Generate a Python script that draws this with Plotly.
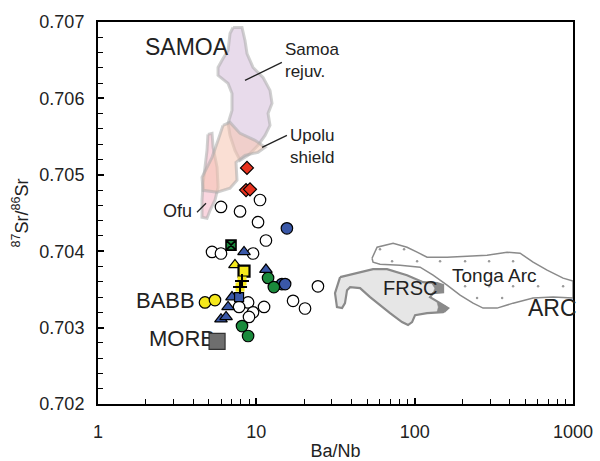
import math
import plotly.graph_objects as go

# ---------------- data ----------------
open_x = [5.98, 7.89, 10.55, 10.25, 11.5, 5.25, 5.98, 9.53, 24.5, 8.87, 7.78, 9.53, 8.99, 11.19, 17.06, 20.3]
open_y = [0.70458, 0.70452, 0.70467, 0.70438, 0.70414, 0.70399, 0.70397, 0.70397, 0.70354, 0.70333,
          0.70327, 0.70320, 0.70314, 0.70327, 0.70335, 0.70325]

blue_circ_x = [15.6, 14.5, 15.2]
blue_circ_y = [0.70430, 0.70357, 0.70357]

blue_tri_x = [8.36, 11.5, 7.02, 6.63, 5.98, 6.44]
blue_tri_y = [0.70399, 0.70376, 0.70340, 0.70327, 0.70311, 0.70314]

blue_sq_x = [7.78]
blue_sq_y = [0.70340]

green_circ_x = [11.86, 12.9, 8.12, 8.87]
green_circ_y = [0.70365, 0.70353, 0.70302, 0.70289]

green_x_x = [6.92]
green_x_y = [0.70408]

yellow_tri_x = [7.33]
yellow_tri_y = [0.70382]

yellow_sq_x = [8.36]
yellow_sq_y = [0.70374]

yellow_cross_x = [8.12, 7.89]
yellow_cross_y = [0.70361, 0.70353]

yellow_circ_x = [4.74, 5.48]
yellow_circ_y = [0.70333, 0.70336]

red_dia_x = [8.73, 8.61, 9.12]
red_dia_y = [0.70509, 0.70480, 0.70481]

morb_x = [5.65]
morb_y = [0.70282]

# fields (outlines in data units)
samoa_rej_x = [7.13, 8.12, 8.48, 8.73, 9.53, 11.02, 12.2, 12.56, 11.86, 12.2, 11.35, 10.25, 8.87, 7.89,
               7.33, 6.82, 6.63, 7.02, 7.02, 6.63, 5.73, 5.73, 6.16, 6.63, 6.82]
samoa_rej_y = [0.706928, 0.706928, 0.706758, 0.706588, 0.706405, 0.706275, 0.706105, 0.705935, 0.705804,
               0.705647, 0.705516, 0.705386, 0.705255, 0.705190, 0.705320, 0.705516, 0.705673, 0.705843,
               0.706065, 0.706196, 0.706301, 0.706405, 0.706523, 0.706627, 0.706850]

upolu_x = [6.16, 6.82, 7.89, 9.81, 11.35, 10.25, 8.48, 7.44, 7.55, 6.82, 5.65, 4.61, 4.54, 5.25, 5.73]
upolu_y = [0.705647, 0.705686, 0.705542, 0.705451, 0.705359, 0.705294, 0.705255, 0.705163, 0.704928,
           0.704824, 0.704771, 0.704797, 0.704967, 0.705229, 0.705451]

ofu_x = [4.95, 5.25, 5.33, 5.65, 5.73, 5.48, 5.10, 4.88, 4.54, 4.54, 4.61, 4.74, 4.88]
ofu_y = [0.705529, 0.705542, 0.705359, 0.705098, 0.704837, 0.704667, 0.704536, 0.704431, 0.704444,
         0.704667, 0.704889, 0.705098, 0.705320]

tonga_x = [53.8, 57.9, 73.1, 89.5, 103.6, 119.8, 160.2, 214.3, 286.7, 383.5, 463.4, 559.8, 686.2, 865.9, 1000,
           1000, 748.5, 559.8, 418.4, 331.5, 270.4, 233.8, 193.6, 160.2, 130.7, 108.2, 80.9, 60.4, 54.6]
tonga_y = [0.703908, 0.704052, 0.704105, 0.704052, 0.703987, 0.703922, 0.703922, 0.703935, 0.703948,
           0.703987, 0.703974, 0.703856, 0.703752, 0.703647, 0.703608,
           0.703386, 0.703399, 0.703386, 0.703320, 0.703255, 0.703255, 0.703320, 0.703425, 0.703556,
           0.703686, 0.703791, 0.703817, 0.703830, 0.703856]

tonga_dot_x = [60.4, 85.7, 72.0, 103.6, 144.7, 208.2, 295.1, 418.4, 208.2, 295.1, 418.4, 601.9, 865.9, 247.9, 356.6]
tonga_dot_y = [0.704026, 0.704026, 0.703869, 0.703869, 0.703869, 0.703869, 0.703869, 0.703869,
               0.703542, 0.703542, 0.703542, 0.703542, 0.703542, 0.703386, 0.703386]

frsc_x = [33.8, 43.3, 54.6, 66.9, 89.5, 113.0, 138.5, 151.1, 151.1, 130.7, 125.1, 144.7, 162.6, 151.1,
          119.8, 100.6, 96.3, 90.8, 83.2, 69.9, 60.4, 52.3, 45.2, 39.1, 37.4, 36.3, 34.8, 32.3, 31.4]
frsc_y = [0.703660, 0.703712, 0.703765, 0.703765, 0.703686, 0.703595, 0.703582, 0.703556, 0.703464,
          0.703451, 0.703399, 0.703320, 0.703255, 0.703203, 0.703190, 0.703163, 0.703072, 0.703033,
          0.703072, 0.703190, 0.703294, 0.703399, 0.703516, 0.703529, 0.703490, 0.703320, 0.703255,
          0.703268, 0.703451]

frsc_tip1_x = [128.0, 138.5, 148.0, 151.1, 148.0, 130.7, 134.0]
frsc_tip1_y = [0.703582, 0.703582, 0.703560, 0.703510, 0.703464, 0.703451, 0.703516]
frsc_tip2_x = [138.5, 144.7, 158.0, 162.6, 156.0, 138.5, 141.0]
frsc_tip2_y = [0.703333, 0.703320, 0.703280, 0.703240, 0.703203, 0.703203, 0.703268]

x_tickvals = [1, 10, 100, 1000]
x_ticktext = ["1", "10", "100", "1000"]
y_tickvals = [0.702, 0.703, 0.704, 0.705, 0.706, 0.707]
y_ticktext = ["0.702", "0.703", "0.704", "0.705", "0.706", "0.707"]

# ---------------- figure ----------------
FONT = "Liberation Sans, Arial, sans-serif"
TXT = "#222222"
fig = go.Figure()

def poly(x, y, fill, line, width):
    fig.add_trace(go.Scatter(x=x + x[:1], y=y + y[:1], mode="lines", fill="toself",
                             fillcolor=fill, line=dict(color=line, width=width),
                             hoverinfo="skip", showlegend=False))

poly(samoa_rej_x, samoa_rej_y, "rgba(214,190,218,0.55)", "rgba(170,170,170,0.55)", 3)
poly(ofu_x, ofu_y, "rgba(246,180,196,0.55)", "rgba(170,170,170,0.55)", 3)
poly(upolu_x, upolu_y, "rgba(246,196,176,0.55)", "rgba(170,170,170,0.55)", 3)

poly(tonga_x, tonga_y, "rgba(255,255,255,1)", "#8a8a8a", 1.5)
poly(frsc_x, frsc_y, "#e6e6e6", "#8a8a8a", 2.2)
poly(frsc_tip1_x, frsc_tip1_y, "#8a8a8a", "#8a8a8a", 0.5)
poly(frsc_tip2_x, frsc_tip2_y, "#8a8a8a", "#8a8a8a", 0.5)

fig.add_trace(go.Scatter(x=tonga_dot_x, y=tonga_dot_y, mode="markers",
                         marker=dict(size=2.5, color="#9a9a9a"), showlegend=False, hoverinfo="skip"))

# leader lines
def leader(x, y):
    fig.add_trace(go.Scatter(x=x, y=y, mode="lines", line=dict(color="#222222", width=1.3),
                             showlegend=False, hoverinfo="skip"))

leader([14.5, 8.48], [0.706471, 0.706235])
leader([15.6, 10.87], [0.705516, 0.705359])
leader([4.22, 4.81], [0.70451, 0.704627])

# MORB label drawn as a trace so the MORB square sits on top of its last letter
fig.add_trace(go.Scatter(x=[3.39], y=[0.70283], mode="text", text=["MORB"], textposition="middle center",
                         textfont=dict(family=FONT, size=22, color=TXT), showlegend=False, hoverinfo="skip"))

def pts(x, y, symbol, color, size, lw=1.2, lc="black"):
    fig.add_trace(go.Scatter(x=x, y=y, mode="markers", showlegend=False, hoverinfo="skip",
                             marker=dict(symbol=symbol, color=color, size=size,
                                         line=dict(color=lc, width=lw))))

pts(morb_x, morb_y, "square", "#6e6e6e", 16, 1.2, "#333333")
pts(open_x, open_y, "circle", "white", 11.5)
pts(red_dia_x, red_dia_y, "diamond", "#e8321e", 10)
pts(blue_circ_x, blue_circ_y, "circle", "#3a58a8", 11.5)
pts(green_circ_x, green_circ_y, "circle", "#1a8a3c", 11.5)
pts(yellow_circ_x, yellow_circ_y, "circle", "#f5e81c", 11.5)
pts(blue_tri_x, blue_tri_y, "triangle-up", "#3a58a8", 11)
pts(blue_sq_x, blue_sq_y, "square", "#3a58a8", 9)
pts(yellow_tri_x, yellow_tri_y, "triangle-up", "#f5e81c", 11)
pts(yellow_sq_x, yellow_sq_y, "square", "#f5e81c", 11, 2.2)
pts(yellow_cross_x, yellow_cross_y, "square", "#f5e81c", 9, 0)
pts(yellow_cross_x, yellow_cross_y, "cross-thin-open", "black", 10, 2)
pts(green_x_x, green_x_y, "square-x", "#1a8a3c", 10, 1.6)

def label(text, x, y, size, xanchor="center", align="center"):
    fig.add_annotation(text=text, x=math.log10(x), y=y, xref="x", yref="y", showarrow=False,
                       xanchor=xanchor, yanchor="middle", align=align,
                       font=dict(family=FONT, size=size, color=TXT))

label("SAMOA", 3.65, 0.70667, 23)
label("BABB", 4.22, 0.70336, 22, "right")
label("ARC", 738, 0.70326, 23)
label("FRSC", 93.5, 0.70352, 20)
label("Tonga Arc", 317, 0.70368, 19)
label("Samoa<br>rejuv.", 14.75, 0.70649, 17, "left", "left")
label("Upolu<br>shield", 15.86, 0.70537, 17, "left", "left")
label("Ofu", 4.04, 0.70452, 18, "right")

axis_common = dict(showline=True, linecolor="black", linewidth=2, mirror=True, showgrid=False,
                   zeroline=False, ticks="inside", tickcolor="black", tickwidth=1.5, automargin=False,
                   tickfont=dict(family=FONT, size=18, color=TXT))

fig.update_xaxes(type="log", range=[0, 3], tickvals=x_tickvals, ticktext=x_ticktext, ticklen=6,
                 minor=dict(ticks="inside", ticklen=5, tickcolor="black", tickwidth=1.3, dtick="D1",
                            showgrid=False),
                 ticklabelstandoff=10,
                 title=dict(text="Ba/Nb", font=dict(family=FONT, size=18, color=TXT), standoff=4),
                 **axis_common)
fig.update_yaxes(range=[0.702, 0.707], tickvals=y_tickvals, ticktext=y_ticktext, ticklen=6,
                 minor=dict(ticks="inside", ticklen=5, tickcolor="black", tickwidth=1.3, dtick=0.0002,
                            showgrid=False),
                 ticklabelstandoff=8,
                 title=dict(text="<sup>87</sup>Sr/<sup>86</sup>Sr", font=dict(family=FONT, size=18, color=TXT),
                            standoff=6),
                 **axis_common)

fig.update_layout(template="none", width=600, height=461, margin=dict(l=98, r=27, t=22, b=57),
                  paper_bgcolor="white", plot_bgcolor="white", showlegend=False)

fig.write_html("out.html", config={"displayModeBar": False},
               post_script="document.body.style.margin='0';document.body.style.overflow='hidden';")
